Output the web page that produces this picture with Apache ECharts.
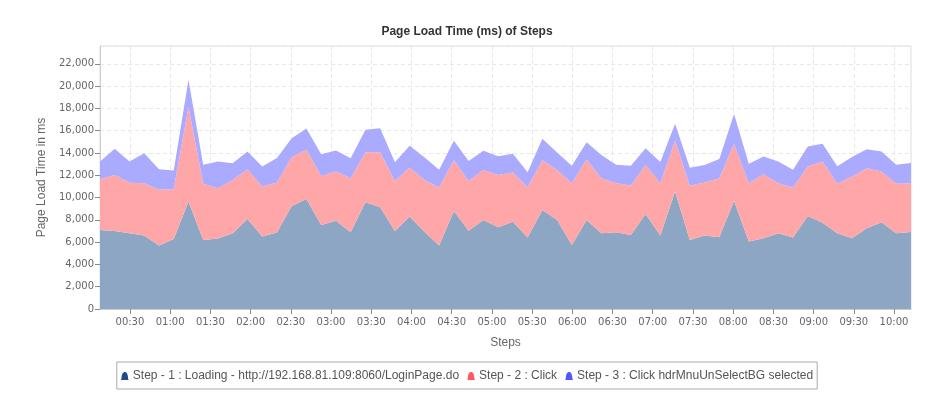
<!DOCTYPE html>
<html>
<head>
<meta charset="utf-8">
<script src="https://cdn.jsdelivr.net/npm/echarts@6/dist/echarts.min.js"></script>
<style>
  html, body { margin: 0; padding: 0; background: #fff; }
  #chart { width: 934px; height: 399px; }
</style>
</head>
<body>
<div id="chart"></div>
<script>
// sample times in minutes after midnight: every 11 minutes from 00:07:40
const startMinute = 7 + 40 / 60
const stepMinutes = 11
const tickMinutes = [30, 60, 90, 120, 150, 180, 210, 240, 270, 300, 330, 360, 390, 420, 450, 480, 510, 540, 570, 600]

const seriesNames = [
  'Step - 1 : Loading - http://192.168.81.109:8060/LoginPage.do',
  'Step - 2 : Click',
  'Step - 3 : Click hdrMnuUnSelectBG selected',
]

const step1 = [
  7090, 7000, 6800, 6590, 5690, 6290, 9640, 6200, 6320, 6800, 8080, 6500, 6860, 9250, 9860,
  7540, 7930, 6890, 9580, 9130, 7000, 8290, 6940, 5690, 8800, 7030, 7990, 7330,
  7840, 6410, 8890, 7990, 5750, 7990, 6800, 6890, 6650, 8530, 6590, 10540, 6200, 6590,
  6440, 9700, 6050, 6350, 6800, 6410, 8350, 7750, 6800, 6350, 7240, 7780, 6800, 6920,
]

const step2 = [
  4550, 5030, 4540, 4700, 5000, 4460, 8480, 5030, 4520, 4780, 4460, 4490, 4490, 4370, 4430,
  4400, 4400, 4840, 4490, 4940, 4490, 4400, 4640, 5210, 4550, 4460, 4490, 4700,
  4400, 4520, 4460, 4490, 5540, 5420, 4930, 4400, 4430, 4400, 4700, 4550, 4850, 4760,
  5300, 5120, 5240, 5750, 4490, 4490, 4430, 5480, 4430, 5540, 5390, 4550, 4430, 4370,
]

const step3 = [
  1590, 2340, 1890, 2690, 1860, 1680, 2450, 1710, 2390, 1500, 1590, 1800, 2190, 1710, 1900,
  1950, 1890, 1800, 2010, 2160, 1680, 1950, 2040, 1590, 1740, 1800, 1710, 1680,
  1680, 1350, 1920, 1560, 1560, 1560, 2100, 1650, 1770, 1500, 1890, 1530, 1620, 1570,
  1710, 2670, 1740, 1590, 1940, 1590, 1800, 1590, 1590, 1740, 1710, 1800, 1710, 1800,
]

const iconColors = ['#1f4a86', '#ff5a5f', '#5555ff']
const fillColors = ['#8ca6c3', '#ffa6a9', '#aaaaff']

const minutes = step1.map((_, i) => startMinute + i * stepMinutes)

function pad(n) { return (n < 10 ? '0' : '') + n }
function hhmm(m) { return pad(Math.floor(m / 60)) + ':' + pad(Math.round(m % 60)) }

const chart = echarts.init(document.getElementById('chart'))

const bell = 'path://M0,10 L0.8,8.6 C1,3 2.5,0 5,0 C7.5,0 9,3 9.2,8.6 L10,10 Z'

chart.setOption({
  animation: false,
  title: {
    text: 'Page Load Time (ms) of Steps',
    left: 'center',
    top: 21,
    textStyle: { fontFamily: 'Liberation Sans', fontSize: 12, fontWeight: 'bold', color: '#333' },
  },
  legend: {
    left: 'center',
    top: 362,
    icon: bell,
    itemWidth: 8,
    itemHeight: 9,
    itemGap: 8,
    padding: [8, 4, 7, 4],
    borderColor: '#aaa',
    borderWidth: 1,
    textStyle: { fontFamily: 'Liberation Sans', fontSize: 12, color: '#555', padding: [0, 0, 0, -1] },
    data: seriesNames,
  },
  grid: {
    left: 100,
    right: 23,
    top: 46,
    bottom: 90,
    show: true,
    borderColor: '#ddd',
    borderWidth: 1,
  },
  xAxis: {
    type: 'value',
    min: minutes[0],
    max: minutes[minutes.length - 1],
    name: 'Steps',
    nameLocation: 'middle',
    nameGap: 28,
    nameTextStyle: { fontFamily: 'Liberation Sans', fontSize: 12, color: '#666' },
    axisLine: { lineStyle: { color: '#ccc' } },
    axisTick: { show: true, length: 5, lineStyle: { color: '#888' }, customValues: tickMinutes },
    axisLabel: {
      fontFamily: 'DejaVu Sans',
      fontSize: 10,
      color: '#666',
      margin: 8,
      customValues: tickMinutes,
      formatter: v => hhmm(v),
    },
    splitLine: { show: true, lineStyle: { color: '#e8e8e8', type: [4, 3] } },
  },
  yAxis: {
    type: 'value',
    min: 0,
    max: 23600,
    interval: 2000,
    name: 'Page Load Time in ms',
    nameLocation: 'middle',
    nameGap: 52,
    nameTextStyle: { fontFamily: 'Liberation Sans', fontSize: 12, color: '#666' },
    axisLine: { show: true, lineStyle: { color: '#ccc' } },
    axisTick: { show: true, length: 5, lineStyle: { color: '#888' } },
    axisLabel: {
      fontFamily: 'DejaVu Sans',
      fontSize: 10,
      color: '#666',
      margin: 6,
      showMaxLabel: false,
      formatter: v => v.toLocaleString('en-US'),
    },
    splitLine: { show: true, lineStyle: { color: '#e8e8e8', type: [4, 3] } },
  },
  series: [step1, step2, step3].map((vals, i) => ({
    name: seriesNames[i],
    type: 'line',
    stack: 'total',
    // load time first so that it is the dimension that gets stacked
    encode: { x: 1, y: 0 },
    symbol: 'none',
    itemStyle: { color: iconColors[i] },
    lineStyle: { width: 0, opacity: 0 },
    areaStyle: { color: fillColors[i], opacity: 1 },
    data: vals.map((v, j) => [v, minutes[j]]),
  })),
})
</script>
</body>
</html>
